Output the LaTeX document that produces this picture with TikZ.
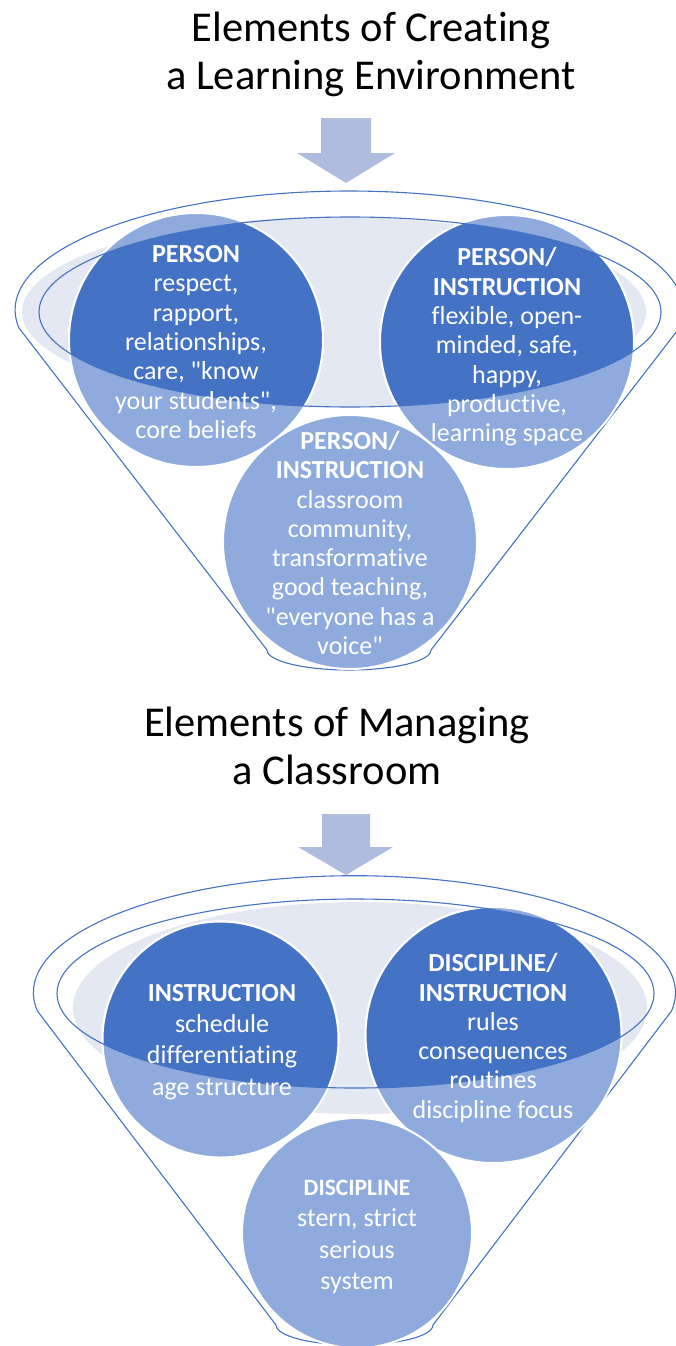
\documentclass[tikz,border=0pt]{standalone}
\usepackage{fontspec}
\setmainfont{Carlito}[Ligatures={TeX,NoCommon}]
\definecolor{funneldark}{HTML}{4472C4}
\definecolor{funnelmid}{HTML}{8FAADC}
\definecolor{funnellight}{HTML}{E4E8F3}
\definecolor{funnelarrow}{HTML}{AFBCDD}
\newcommand{\qm}{\textquotedbl}
\tikzset{
  heading/.style={align=center, font=\fontsize{42.5}{48}\selectfont},
  ball/.style={circle, inner sep=0pt, fill=funnelmid, draw=white, line width=2},
  balltext/.style={align=center, text=white, font=\fontsize{26}{29.3}\selectfont},
  rim/.style={draw=funneldark, line width=1.1},
}
\begin{document}
\begin{tikzpicture}[x=1pt,y=-1pt]
        \useasboundingbox (0,0) rectangle (675,1346);
        % first funnel
        \node[heading] (TITLE_A) at (371,54) {Elements of Creating\\a Learning Environment};
        \fill[funnelarrow] (321,118) -- (371,118) -- (371,153) -- (395,153) -- (346,183) -- (297,153) -- (321,153) -- cycle;
        \draw[rim] (267,650) -- (19,328) arc[start angle=171.3, end angle=368.7, x radius=334, y radius=119]
            -- (431,650) arc[start angle=0, end angle=180, x radius=82, y radius=20];
        \fill[funnellight] (334,312) ellipse[x radius=312, y radius=95];
        \node[ball, minimum size=254] (CIRC_A) at (196,340) {};
        \node[ball, minimum size=254] (CIRC_B) at (507,342) {};
        \node[ball, minimum size=254] (CIRC_C) at (350,542) {};
        \begin{scope}
            \clip (350,312) ellipse[x radius=311, y radius=95];
            \fill[funneldark, draw=white, line width=2] (CIRC_A.center) circle[radius=127] (CIRC_B.center) circle[radius=127];
        \end{scope}
        \draw[rim] (350,312) ellipse[x radius=311, y radius=95];
        \node[balltext] (TEXT_A) at (196,342) {\textbf{PERSON}\\respect,\\rapport,\\relationships,\\care, \qm know\\your students\qm,\\core beliefs};
        \node[balltext] (TEXT_B) at (507,347) {\textbf{PERSON/}\\\textbf{INSTRUCTION}\\flexible, open-\\minded, safe,\\happy,\\productive,\\learning space};
        \node[balltext] (TEXT_C) at (350,543) {\textbf{PERSON/}\\\textbf{INSTRUCTION}\\classroom\\community,\\transformative\\good teaching,\\\qm everyone has a\\voice\qm};
        % second funnel
        \node[heading] (TITLE_B) at (337,746) {Elements of Managing\\a Classroom};
        \fill[funnelarrow] (322,814) -- (370,814) -- (370,847) -- (393,847) -- (346,875) -- (298,847) -- (322,847) -- cycle;
        \draw[rim] (276,1325) -- (37.4,1011) arc[start angle=171, end angle=369, x radius=321, y radius=117]
            -- (433,1325) arc[start angle=0, end angle=180, x radius=78.5, y radius=20];
        \fill[funnellight] (360,1008) ellipse[x radius=287, y radius=106];
        \node[ball, minimum size=236] (CIRC_D) at (220.5,1039.5) {};
        \node[ball, minimum size=256] (CIRC_E) at (493.5,1035) {};
        \node[ball, minimum size=230] (CIRC_F) at (357,1233) {};
        \begin{scope}
            \clip (355.5,993.5) ellipse[x radius=298.5, y radius=94.5];
            \fill[funneldark, draw=white, line width=2] (CIRC_D.center) circle[radius=118] (CIRC_E.center) circle[radius=128];
        \end{scope}
        \draw[rim] (355.5,993.5) ellipse[x radius=298.5, y radius=94.5];
        \node[balltext, font=\fontsize{26}{31.3}\selectfont] (TEXT_D) at (222,1042) {\textbf{INSTRUCTION}\\schedule\\differentiating\\age structure};
        \node[balltext] (TEXT_E) at (493,1038) {\textbf{DISCIPLINE/}\\\textbf{INSTRUCTION}\\rules\\consequences\\routines\\discipline focus};
        \node[balltext, font=\fontsize{26}{31.5}\selectfont] (TEXT_F) at (357,1237) {{\fontsize{23.5}{31.5}\selectfont\bfseries DISCIPLINE}\\stern, strict\\serious\\system};
\end{tikzpicture}
\end{document}
